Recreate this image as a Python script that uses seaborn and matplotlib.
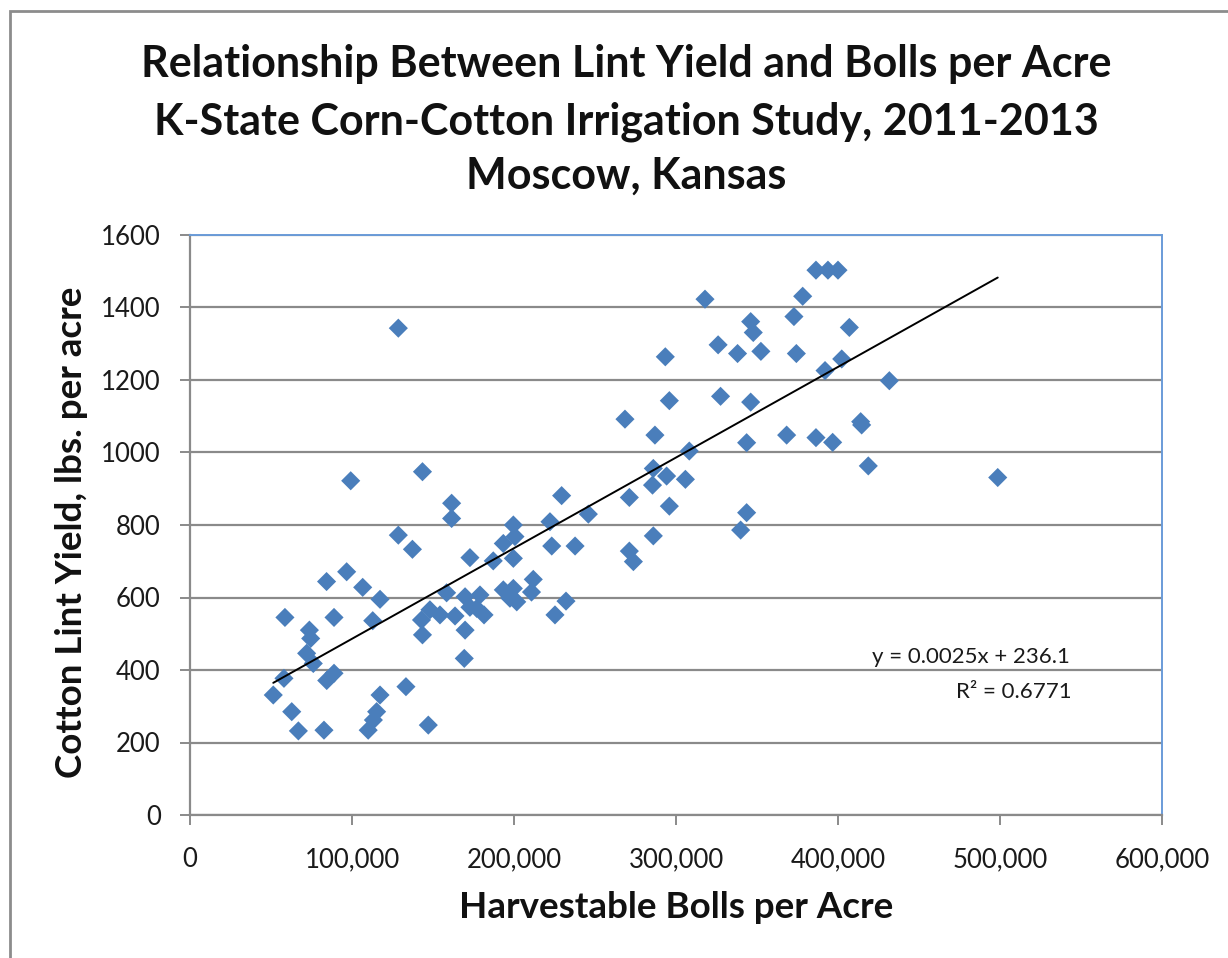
import matplotlib
matplotlib.use("Agg")
import matplotlib.pyplot as plt
from matplotlib.patches import Rectangle
from matplotlib.ticker import FuncFormatter, MultipleLocator
import numpy as np
import pandas as pd
import seaborn as sns

# Harvestable bolls per acre and cotton lint yield (lbs/acre), one entry per plot
bolls = [
    51400, 58000, 58600, 62800, 66900, 72000, 73700, 74500, 76100, 82700,
    84300, 84400, 88900, 88900, 96700, 99200, 106600, 110000, 112800, 113200,
    115200, 117300, 117300, 128600, 128600, 133300, 137300, 142900, 143500, 143500,
    147100, 148100, 154300, 158400, 161500, 161500, 163600, 169300, 169800, 169800,
    172800, 172800, 177000, 179000, 181500, 187200, 193400, 193400, 197500, 199600,
    199600, 199600, 200600, 201700, 211900, 210800, 222200, 223300, 225300, 229400,
    232100, 237700, 245900, 268500, 271200, 271200, 273700, 286000, 285500, 286000,
    287000, 293400, 294200, 295900, 295900, 305800, 308200, 317900, 326000, 327500,
    338000, 339900, 343600, 343600, 346100, 347700, 346100, 352400, 368300, 372800,
    374300, 378200, 386400, 393800, 400000, 386400, 392000, 396700, 402300, 407000,
    414000, 414600, 418700, 431700, 498600,
]
lint_yield = [
    331, 377, 545, 285, 232, 446, 510, 487, 418, 234,
    644, 371, 391, 545, 671, 922, 628, 234, 536, 262,
    285, 595, 331, 1343, 772, 354, 733, 538, 497, 947,
    248, 566, 552, 613, 860, 818, 549, 432, 510, 602,
    710, 573, 570, 607, 552, 701, 749, 621, 598, 800,
    708, 625, 768, 588, 650, 615, 809, 742, 552, 881,
    590, 742, 830, 1092, 876, 728, 699, 770, 910, 956,
    1048, 1264, 935, 1143, 852, 926, 1004, 1423, 1297, 1155,
    1273, 786, 834, 1027, 1361, 1331, 1139, 1279, 1048, 1375,
    1273, 1431, 1503, 1503, 1503, 1041, 1226, 1028, 1258, 1345,
    1085, 1076, 963, 1198, 931,
]

# Linear trendline as reported on the chart
trend_slope = 0.0025
trend_intercept = 236.1
trend_r2 = 0.6771

title_lines = [
    "Relationship Between Lint Yield and Bolls per Acre",
    "K-State Corn-Cotton Irrigation Study, 2011-2013",
    "Moscow, Kansas",
]
x_label = "Harvestable Bolls per Acre"
y_label = "Cotton Lint Yield, lbs. per acre"

df = pd.DataFrame({"bolls": bolls, "lint": lint_yield})

sns.set_theme(style="white")
plt.rcParams["font.family"] = ["Lato", "DejaVu Sans"]

W, H = 1228, 958
fig = plt.figure(figsize=(W / 100, H / 100), dpi=100)
fig.patch.set_facecolor("white")

# outer chart frame
fig.patches.append(Rectangle((10 / W, -0.05), 1.1, 1 - 11 / H + 0.05,
                             transform=fig.transFigure, fill=False,
                             edgecolor="#8c8c8c", linewidth=2.0, zorder=0))

ax = fig.add_axes([190 / W, 1 - 815 / H, (1162 - 190) / W, (815 - 235) / H])

grid_col = "#8a8a8a"
ax.set_axisbelow(True)
ax.yaxis.grid(True, color=grid_col, linewidth=1.6)
ax.xaxis.grid(False)

sns.scatterplot(data=df, x="bolls", y="lint", marker="D", s=95,
                color="#4a7ebb", edgecolor="none", linewidth=0, ax=ax, zorder=3)

xs = np.array([min(bolls), max(bolls)])
ax.plot(xs, trend_slope * xs + trend_intercept, color="black", linewidth=1.4, zorder=4)

ax.set_xlim(0, 600000)
ax.set_ylim(0, 1600)
ax.xaxis.set_major_locator(MultipleLocator(100000))
ax.yaxis.set_major_locator(MultipleLocator(200))
ax.xaxis.set_major_formatter(FuncFormatter(lambda v, p: f"{int(v):,}"))
ax.yaxis.set_major_formatter(FuncFormatter(lambda v, p: f"{int(v)}"))

for side in ("left", "bottom"):
    ax.spines[side].set_color(grid_col)
    ax.spines[side].set_linewidth(1.6)
for side in ("top", "right"):
    ax.spines[side].set_color("#6a9bd8")
    ax.spines[side].set_linewidth(1.4)

ax.tick_params(axis="both", which="major", direction="out", length=7, width=1.4,
               color=grid_col, labelsize=18.5, labelcolor="#1a1a1a")
ax.tick_params(axis="y", pad=14)
ax.tick_params(axis="x", pad=16)
ax.tick_params(bottom=True, left=True)

ax.set_xlabel("")
ax.set_ylabel("")
fig.text(676 / W, 1 - 908 / H, x_label, ha="center", va="center",
         fontsize=26.5, fontweight="bold", color="#111111")
fig.text(72 / W, 1 - 532 / H, y_label, ha="center", va="center", rotation=90,
         fontsize=26.5, fontweight="bold", color="#111111")

title_y = [64, 122, 176]
for line, yp in zip(title_lines, title_y):
    fig.text(626 / W, 1 - yp / H, line, ha="center", va="center",
             fontsize=31, fontweight="bold", color="#111111")

ax.text(1070 / W, 1 - 657 / H, f"y = {trend_slope}x + {trend_intercept}",
        transform=fig.transFigure, ha="right", va="center", fontsize=16, color="#1a1a1a")
ax.text(1072 / W, 1 - 692 / H, f"R² = {trend_r2}",
        transform=fig.transFigure, ha="right", va="center", fontsize=16, color="#1a1a1a")

fig.savefig("out.png", dpi=100, facecolor="white")
